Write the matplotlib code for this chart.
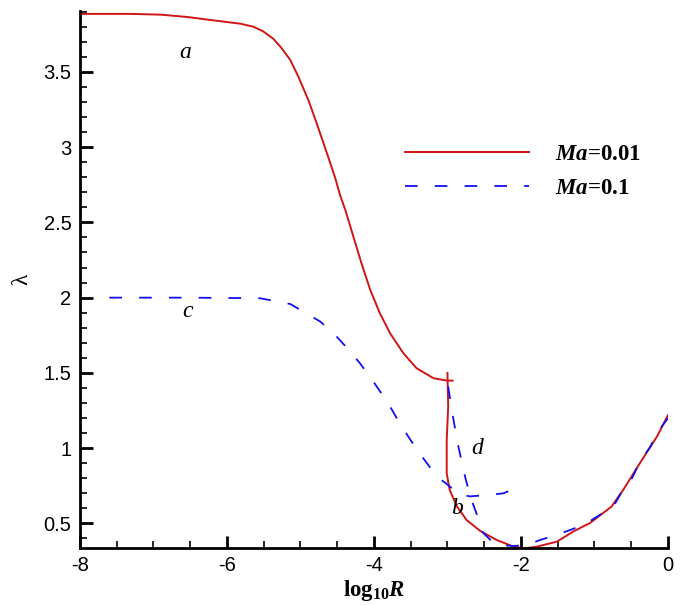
import matplotlib
matplotlib.use('Agg')
import matplotlib.pyplot as plt
from matplotlib.ticker import MultipleLocator

# serif bold for the math parts (log10R, Ma)
plt.rcParams['mathtext.fontset'] = 'custom'
plt.rcParams['mathtext.rm'] = 'Liberation Serif:bold'
plt.rcParams['mathtext.it'] = 'Liberation Serif:italic:bold'
plt.rcParams['mathtext.bf'] = 'Liberation Serif:bold'
plt.rcParams['font.family'] = ['Liberation Sans', 'DejaVu Sans']

# Ma = 0.01 : upper branch and lower branch (meeting in the cusp near log10R = -3)
red_x1 = [-8, -7.3, -6.9, -6.55, -6.23, -5.82, -5.64, -5.51, -5.37, -5.26, -5.14, -5.03,
          -4.89, -4.78, -4.64, -4.53, -4.46, -4.39, -4.28, -4.17, -4.05, -3.92, -3.78,
          -3.60, -3.42, -3.19, -3.01, -2.93]
red_y1 = [3.885, 3.885, 3.88, 3.865, 3.845, 3.82, 3.80, 3.77, 3.72, 3.66, 3.58, 3.47,
          3.31, 3.16, 2.96, 2.80, 2.68, 2.583, 2.406, 2.229, 2.051, 1.897, 1.763,
          1.631, 1.531, 1.465, 1.449, 1.449]
red_x2 = [-3.00, -2.99, -3.01, -3.01, -2.97, -2.87, -2.74, -2.56, -2.33, -2.10, -1.95,
          -1.79, -1.51, -1.29, -1.06, -0.77, -0.61, -0.38, -0.15, 0]
red_y2 = [1.50, 1.276, 1.055, 0.833, 0.723, 0.612, 0.523, 0.452, 0.390, 0.346, 0.335,
          0.345, 0.379, 0.446, 0.503, 0.611, 0.722, 0.902, 1.077, 1.22]

# Ma = 0.1
blue_x1 = [-7.6, -6.5, -5.55, -5.14, -4.96, -4.73, -4.55, -4.35, -4.19, -4.03, -3.90,
           -3.76, -3.65, -3.51, -3.38, -3.21, -3.10, -3.03, -2.83, -2.69, -2.42, -2.24, -2.0]
blue_y1 = [2.0, 2.0, 1.996, 1.958, 1.907, 1.841, 1.764, 1.657, 1.564, 1.458, 1.365,
           1.259, 1.166, 1.06, 0.966, 0.855, 0.794, 0.77, 0.69, 0.68, 0.69, 0.70, 0.75]
blue_x2 = [-2.99, -2.94, -2.86, -2.76, -2.69, -2.60, -2.52, -2.35, -2.11, -1.92, -1.74,
           -1.54, -1.31, -1.11, -0.93, -0.75, -0.63, -0.49, -0.38, -0.24, -0.15, 0]
blue_y2 = [1.41, 1.25, 1.03, 0.81, 0.68, 0.56, 0.44, 0.36, 0.35, 0.357, 0.39,
           0.42, 0.46, 0.50, 0.556, 0.605, 0.71, 0.80, 0.91, 1.01, 1.10, 1.20]

# branch labels
label_text = ['a', 'c', 'd', 'b']
label_x = [-6.57, -6.54, -2.59, -2.87]
label_y = [3.63, 1.905, 1.0, 0.60]

red = '#d01515'
blue = '#1010f0'
dash = (0, (7, 9.5))

fig = plt.figure(figsize=(6.83, 6.05), dpi=100)
ax = fig.add_axes([0.117, 0.094, 0.861, 0.888])

ax.plot(red_x1, red_y1, color=red, lw=1.4, label=r'$Ma$=0.01')
ax.plot(red_x2, red_y2, color=red, lw=1.4)
ax.plot(blue_x1, blue_y1, color=blue, lw=1.3, linestyle=dash, label=r'$Ma$=0.1')
ax.plot(blue_x2, blue_y2, color=blue, lw=1.3, linestyle=dash)

for t, x, y in zip(label_text, label_x, label_y):
    ax.text(x, y, t, fontsize=17, style='italic', family='Liberation Serif',
            ha='center', va='center')

ax.set_xlim(-8, 0)
ax.set_ylim(0.336, 3.905)
ax.xaxis.set_minor_locator(MultipleLocator(0.5))
ax.yaxis.set_minor_locator(MultipleLocator(0.1))
ax.set_yticks([0.5, 1, 1.5, 2, 2.5, 3, 3.5])
ax.set_yticklabels(['0.5', '1', '1.5', '2', '2.5', '3', '3.5'])
ax.set_xticks([-8, -6, -4, -2, 0])
ax.set_xticklabels(['-8', '-6', '-4', '-2', '0'])

ax.spines['top'].set_visible(False)
ax.spines['right'].set_visible(False)
ax.spines['left'].set_linewidth(2)
ax.spines['bottom'].set_linewidth(2)
ax.tick_params(which='major', direction='in', length=9, width=2, labelsize=14.5, pad=6)
ax.tick_params(which='minor', direction='in', length=5, width=1.2)

ax.set_xlabel(r'$\mathrm{log}_{\mathrm{10}}R$', fontsize=16.5, labelpad=2)
ax.set_ylabel('λ', fontsize=17, family=['Liberation Serif', 'DejaVu Serif'],
              rotation=90, labelpad=8)

leg = ax.legend(loc='upper left', bbox_to_anchor=(0.553, 0.753), frameon=False,
                prop={'family': 'Liberation Serif', 'weight': 'bold', 'size': 16.5},
                handlelength=5.4, handletextpad=1.15, labelspacing=0.6,
                borderpad=0, borderaxespad=0)

fig.savefig('out.png', dpi=100)
